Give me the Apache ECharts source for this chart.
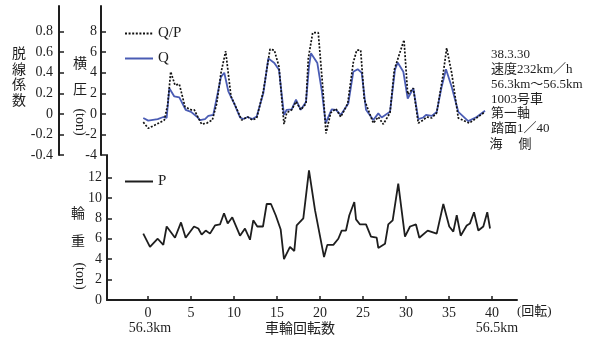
<!DOCTYPE html>
<html><head><meta charset="utf-8">
<script src="https://cdn.jsdelivr.net/npm/echarts@6/dist/echarts.min.js"></script>
<style>html,body{margin:0;padding:0;background:#fff}#c{width:591px;height:340px}</style>
</head><body><div id="c"></div>
<script>
// Wheel rotations (x) and values
const pRot = [-0.55,0.23,1.13,1.78,2.17,3.14,3.84,4.38,5.35,5.85,6.24,6.71,7.21,7.79,8.37,8.84,9.27,9.8,10.7,11.28,11.86,12.24,12.71,13.37,13.8,14.3,14.85,15.43,15.81,16.51,17.01,17.29,18.06,18.72,19.42,20.47,20.85,21.55,22.13,22.52,23.02,23.41,23.99,24.19,24.65,25.35,25.93,26.59,26.78,27.56,27.94,28.45,29.1,29.88,30.47,31.16,31.55,32.52,33.57,34.34,35.03,35.5,35.9,36.36,37.06,37.44,37.91,38.41,38.99,39.45,39.77];
const pTon = [6.5,5.2,6.0,5.4,7.2,6.1,7.6,6.1,7.2,7.0,6.4,6.8,6.5,7.3,7.4,8.5,7.5,8.1,6.3,7.0,5.9,7.8,7.2,7.2,9.4,9.4,8.3,6.9,4.0,5.2,4.8,7.3,8.0,12.7,8.8,4.2,5.4,5.4,6.0,6.8,6.8,8.3,9.6,7.9,7.4,7.4,6.2,6.1,5.1,5.5,7.4,7.8,11.4,6.2,7.2,7.4,6.1,6.8,6.5,9.4,7.2,6.7,8.3,6.3,7.3,7.5,8.6,6.8,7.2,8.6,7.0];

const qRot = [-0.55,0.03,1.13,1.78,2.17,2.48,3.06,3.64,4.38,5.0,5.66,6.05,6.63,7.01,7.59,8.49,8.87,9.34,10.03,10.7,11.08,11.59,12.13,12.64,13.41,13.99,14.69,15.23,15.81,16.13,16.71,17.21,17.76,18.37,18.72,18.95,19.69,20.2,20.66,21.36,21.86,22.41,23.29,23.87,24.38,24.85,25.35,26.2,26.78,27.17,28.14,28.72,29.03,29.69,30.2,30.85,31.43,32.01,32.33,32.99,33.57,34.15,34.65,35.31,36.08,37.24,38.22,39.19];
const qTon = [-0.4,-0.65,-0.5,-0.3,-0.4,2.5,1.7,1.6,0.4,0.2,-0.25,-0.6,-0.5,-0.2,-0.1,3.6,4.0,2.2,1.0,-0.35,-0.5,-0.3,-0.5,-0.25,2.0,5.4,4.95,4.3,-0.1,0.4,0.45,1.4,0.4,1.15,4.6,5.9,4.95,2.3,-0.9,0.45,0.4,-0.1,1.0,4.1,4.35,4.0,0.4,-0.6,0.05,-0.35,0.2,4.3,5.0,4.1,1.5,2.5,-0.5,-0.35,-0.1,-0.2,0.2,2.65,4.35,2.65,0.2,-0.7,-0.3,0.3];

const qpRot = [-0.55,0.03,1.01,1.9,2.29,2.64,3.14,3.64,4.3,5.0,5.38,5.85,6.24,6.83,7.48,7.99,8.49,9.03,9.65,10.31,10.9,11.59,12.13,12.64,13.41,14.19,14.69,15.23,15.81,16.13,16.71,17.21,17.76,18.37,18.64,19.15,19.8,20.31,20.7,21.24,21.86,22.41,23.22,23.87,24.27,24.73,25.15,26.2,26.78,27.36,28.14,28.64,29.77,30.2,30.85,31.43,32.01,32.41,32.99,33.57,34.27,34.73,35.31,36.08,37.36,39.19];
const qpVal = [-0.08,-0.14,-0.10,-0.06,0.09,0.41,0.28,0.29,0.07,0.04,0.04,-0.04,-0.10,-0.09,-0.06,0.10,0.40,0.61,0.17,0.05,-0.06,-0.03,-0.06,-0.04,0.22,0.63,0.62,0.46,-0.10,0.01,0.04,0.12,0.04,0.10,0.54,0.79,0.79,0.27,-0.19,0.01,0.05,-0.03,0.10,0.50,0.62,0.62,0.14,-0.09,-0.03,-0.10,0.01,0.43,0.72,0.19,0.25,-0.09,-0.06,-0.03,-0.04,0.01,0.36,0.64,0.40,-0.04,-0.09,0.02];

const xTicks = [0,5,10,15,20,25,30,35,40];
const qpTicks = [-0.4,-0.2,0,0.2,0.4,0.6,0.8];
const qTicks = [-4,-2,0,2,4,6,8];
const pTicks = [0,2,4,6,8,10,12];
const notes = ['38.3.30','速度232km／h','56.3km〜56.5km','1003号車','第一軸','踏面1／40'];

const zip = (a,b) => a.map((v,i) => [v,b[i]]);
const SERIF = '"Liberation Serif","Noto Sans CJK JP",serif';
const CJK = '"Noto Sans CJK JP","Liberation Serif",sans-serif';
const INK = '#1e1e1e';

const axisBase = (ticks, fmt, margin) => ({
  type:'value', splitLine:{show:false},
  axisLine:{show:true, onZero:false, lineStyle:{color:INK, width:2}},
  axisTick:{show:true, inside:true, length:5, customValues:ticks, lineStyle:{color:INK, width:1.5}},
  axisLabel:{customValues:ticks, color:INK, fontFamily:SERIF, fontSize:14, margin:margin, formatter:fmt}
});

const chart = echarts.init(document.getElementById('c'), null, {renderer:'canvas'});
const graphics = [];
const addText = (txt, x, y, opts) => graphics.push(Object.assign({type:'text', x:x, y:y, style:Object.assign({text:txt, fill:INK, font:'13px '+CJK, textAlign:'left', textVerticalAlign:'middle'}, opts||{})}));

addText('脱\n線\n係\n数', 19, 76, {font:'14px '+CJK, textAlign:'center', lineHeight:15.5});
addText('横', 80, 63, {font:'14px '+CJK, textAlign:'center'});
addText('圧', 80, 89, {font:'14px '+CJK, textAlign:'center'});
graphics.push({type:'text', x:80, y:122, rotation:-Math.PI/2, style:{text:'(ton)', fill:INK, font:'14px '+SERIF, textAlign:'center', textVerticalAlign:'middle'}});
addText('輪', 78, 213, {font:'14px '+CJK, textAlign:'center'});
addText('重', 78, 241, {font:'14px '+CJK, textAlign:'center'});
graphics.push({type:'text', x:80, y:276, rotation:-Math.PI/2, style:{text:'(ton)', fill:INK, font:'14px '+SERIF, textAlign:'center', textVerticalAlign:'middle'}});
notes.forEach((t,i) => addText(t, 491, 55 + i*14.7, {font:'13px '+SERIF}));
addText('海', 496, 143, {font:'13px '+CJK, textAlign:'center'});
addText('側', 525, 143, {font:'13px '+CJK, textAlign:'center'});
addText('56.3km', 150, 328, {font:'14px '+SERIF, textAlign:'center'});
addText('車輪回転数', 300, 328, {font:'14px '+CJK, textAlign:'center'});
addText('56.5km', 497, 328, {font:'14px '+SERIF, textAlign:'center'});
addText('(回転)', 517, 312, {font:'13px '+SERIF});

const legendText = {fontFamily:SERIF, fontSize:15, color:INK};
chart.setOption({
  animation:false,
  backgroundColor:'#fff',
  grid:[
    {left:101, right:74, top:6, bottom:185, containLabel:false},
    {left:107, right:74, top:155, bottom:40, containLabel:false}
  ],
  legend:[
    {data:['Q/P','Q'], orient:'vertical', left:119, top:21, itemWidth:28, itemHeight:14, itemGap:10,
     itemStyle:{opacity:0}, textStyle:legendText},
    {data:['P'], left:119, top:169, itemWidth:28, itemHeight:14,
     itemStyle:{opacity:0}, textStyle:legendText}
  ],
  xAxis:[
    {type:'value', gridIndex:0, min:-5.465, max:42.907, show:false},
    {type:'value', gridIndex:1, min:-4.767, max:42.907, splitLine:{show:false},
     axisLine:{show:true, onZero:false, lineStyle:{color:INK, width:2}},
     axisTick:{show:true, inside:true, length:4, customValues:xTicks, lineStyle:{color:INK, width:1.5}},
     axisLabel:{customValues:xTicks, color:INK, fontFamily:SERIF, fontSize:14, margin:6}}
  ],
  yAxis:[
    Object.assign(axisBase(qpTicks, v => (Math.abs(v)<1e-9 ? '0' : v.toFixed(1)), 6), {gridIndex:0, position:'left', offset:42, min:-0.4, max:1.05}),
    Object.assign(axisBase(qTicks, v => String(Math.round(v)), 4), {gridIndex:0, position:'left', offset:0, min:-4, max:10.5}),
    Object.assign(axisBase(pTicks, v => String(Math.round(v)), 5), {gridIndex:1, position:'left', min:0, max:14.2})
  ],
  series:[
    {name:'Q/P', type:'line', xAxisIndex:0, yAxisIndex:0, data:zip(qpRot, qpVal), symbol:'none',
     lineStyle:{color:'#111', width:1.7, type:[2,1.6]}, itemStyle:{color:'#111'}, z:3},
    {name:'Q', type:'line', xAxisIndex:0, yAxisIndex:1, data:zip(qRot, qTon), symbol:'none',
     lineStyle:{color:'#4a5cb4', width:1.8}, itemStyle:{color:'#4a5cb4'}, z:2},
    {name:'P', type:'line', xAxisIndex:1, yAxisIndex:2, data:zip(pRot, pTon), symbol:'none',
     lineStyle:{color:'#1e1e1e', width:1.8}, itemStyle:{color:'#1e1e1e'}}
  ],
  graphic:graphics
});
</script></body></html>
